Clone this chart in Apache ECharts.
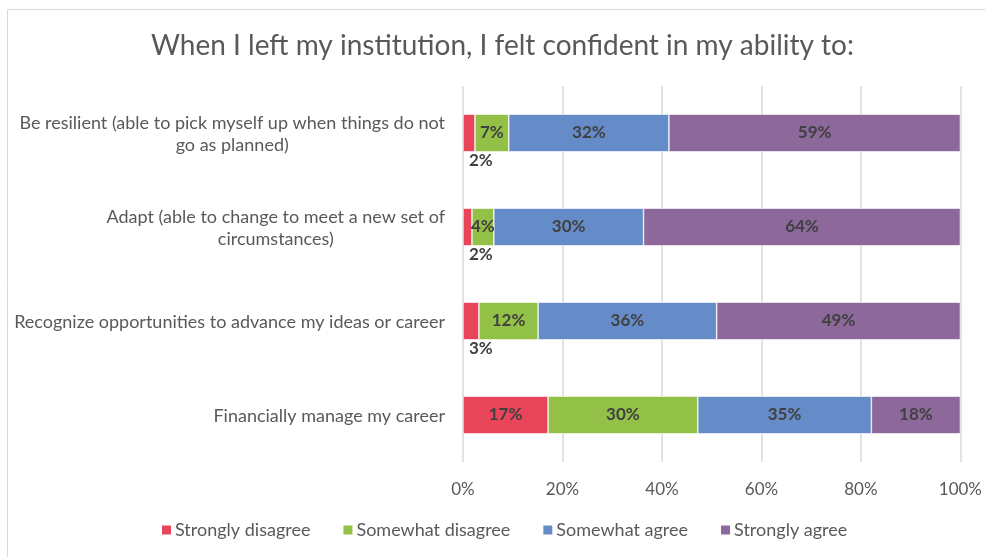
<!DOCTYPE html>
<html><head><meta charset="utf-8">
<script src="https://cdn.jsdelivr.net/npm/echarts@6/dist/echarts.min.js"></script>
<style>html,body{margin:0;padding:0;background:#fff}#c{width:985px;height:557px}</style>
</head><body><div id="c"></div>
<script>
const title = 'When I left my institution, I felt confident in my ability to:';
const categories = [
  'Be resilient (able to pick myself up when things do not\ngo as planned)',
  'Adapt (able to change to meet a new set of\ncircumstances)',
  'Recognize opportunities to advance my ideas or career',
  'Financially manage my career'
];
const seriesNames = ['Strongly disagree', 'Somewhat disagree', 'Somewhat agree', 'Strongly agree'];
const stronglyDisagree = [2.4, 1.8, 3.2, 17.1];
const somewhatDisagree = [6.8, 4.4, 11.9, 30.1];
const somewhatAgree = [32.2, 30.1, 35.9, 34.9];
const stronglyAgree = [58.6, 63.7, 49.0, 17.9];
const xTicks = [0, 20, 40, 60, 80, 100];
const colors = ['#E9455A', '#93C047', '#658CC8', '#8D689B'];

const FONT = 'Lato';
const allSeries = [stronglyDisagree, somewhatDisagree, somewhatAgree, stronglyAgree];
const catRev = categories.slice().reverse();

const series = allSeries.map((vals, si) => ({
  name: seriesNames[si],
  type: 'bar',
  stack: 'total',
  barWidth: '40%',
  itemStyle: { color: colors[si], borderColor: '#ffffff', borderWidth: 0.6 },
  label: {
    show: true,
    position: 'inside',
    color: '#404040',
    fontFamily: FONT,
    fontWeight: 'bold',
    fontSize: 17,
    offset: [0, 1],
    formatter: p => Math.round(p.value) + '%'
  },
  labelLayout: { hideOverlap: false },
  data: vals.slice().reverse().map(v => {
    if (si === 0 && v < 5) {
      return { value: v, label: { position: [6, '100%'], align: 'left', verticalAlign: 'top', distance: 0, offset: [0, 1] } };
    }
    return v;
  })
}));

const chart = echarts.init(document.getElementById('c'));
chart.setOption({
  backgroundColor: '#ffffff',
  animation: false,
  title: {
    text: title, left: 146, top: 27,
    textStyle: { fontFamily: FONT, fontWeight: 'normal', fontSize: 28, color: '#595959' }
  },
  legend: {
    bottom: 13, left: 155,
    itemWidth: 11, itemHeight: 11, itemGap: 31,
    icon: 'rect',
    textStyle: { fontFamily: FONT, fontSize: 18, color: '#595959', padding: [0, 0, 0, -2] },
    data: seriesNames
  },
  grid: { left: 463, right: 24, top: 86, bottom: 95, containLabel: false },
  xAxis: {
    type: 'value', min: 0, max: 100, interval: 20,
    axisLine: { show: false }, axisTick: { show: false },
    splitLine: { show: true, lineStyle: { color: '#D9D9D9', width: 1.5 } },
    axisLabel: { margin: 19, fontFamily: FONT, fontSize: 17, color: '#595959',
      formatter: v => xTicks.includes(v) ? v + '%' : '' }
  },
  yAxis: {
    type: 'category', data: catRev,
    axisLine: { show: false }, axisTick: { show: false },
    axisLabel: {
      margin: 18, fontFamily: FONT, fontSize: 18, color: '#595959', lineHeight: 22,
      formatter: v => v.split('\n').map(s => '{c|' + s + '}').join('\n'),
      rich: { c: { align: 'center', fontFamily: FONT, fontSize: 18, color: '#595959', lineHeight: 22, padding: [3, 0, 0, 0] } }
    }
  },
  graphic: [{
    type: 'rect', silent: true, z: -1,
    shape: { x: 7.5, y: 9.5, width: 1200, height: 800 },
    style: { fill: 'none', stroke: '#D9D9D9', lineWidth: 1 }
  }],
  series: series
});
</script></body></html>
